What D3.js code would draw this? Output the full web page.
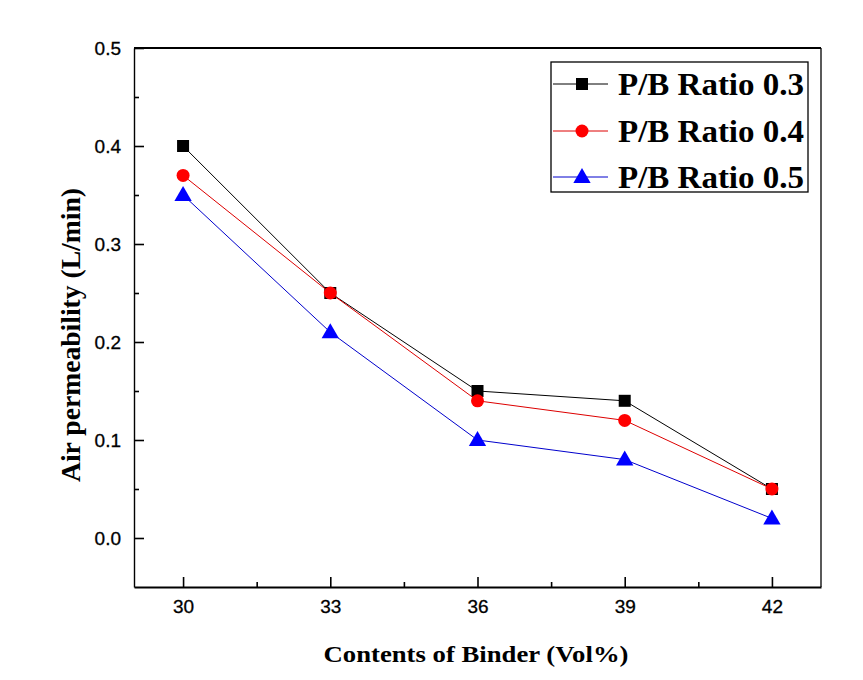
<!DOCTYPE html>
<html><head><meta charset="utf-8">
<script src="https://cdn.jsdelivr.net/npm/d3@7"></script>
<style>html,body{margin:0;padding:0;background:#fff;}</style>
</head><body>
<script>
const binder = [30, 33, 36, 39, 42];
const ratio03 = [0.40, 0.25, 0.15, 0.14, 0.05];
const ratio04 = [0.37, 0.25, 0.14, 0.12, 0.05];
const ratio05 = [0.35, 0.21, 0.10, 0.08, 0.02];
const seriesNames = ["P/B Ratio 0.3", "P/B Ratio 0.4", "P/B Ratio 0.5"];
const seriesColors = ["#000000", "#ff0000", "#0000ff"];
const lineColors = ["#000000", "#dd0000", "#0000cc"];
const seriesShapes = ["square", "circle", "triangle"];
const yTicks = [0.0, 0.1, 0.2, 0.3, 0.4, 0.5];
const xTicks = [30, 33, 36, 39, 42];

const W = 863, H = 680;
const L = 134, R = 821, T = 48, B = 587;
const svg = d3.select("body").append("svg").attr("width", W).attr("height", H);

const x = d3.scaleLinear().domain([29, 43]).range([L, R]);
const y = d3.scaleLinear().domain([-0.05, 0.5]).range([B, T]);

// frame
svg.append("line").attr("x1", L).attr("x2", R).attr("y1", T).attr("y2", T).attr("stroke", "#000").attr("stroke-width", 2);
svg.append("line").attr("x1", R).attr("x2", R).attr("y1", T).attr("y2", B).attr("stroke", "#000").attr("stroke-width", 1.3);

// axes
const xAxis = d3.axisBottom(x).tickValues(xTicks).tickSizeInner(-10).tickSizeOuter(0).tickFormat(d3.format("d")).tickPadding(13);
const gx = svg.append("g").attr("transform", `translate(0,${B})`).call(xAxis);
gx.select(".domain").attr("stroke-width", 2.2);
gx.selectAll(".tick line").attr("stroke-width", 1.6);
gx.selectAll("text").attr("font-family", "Liberation Sans, Arial, sans-serif").attr("font-size", 19).attr("fill", "#000")
  .attr("stroke", "#000").attr("stroke-width", 0.3);

const xMinor = d3.axisBottom(x).tickValues([31.5, 34.5, 37.5, 40.5]).tickSize(-5).tickFormat("");
const gxm = svg.append("g").attr("transform", `translate(0,${B})`).call(xMinor);
gxm.select(".domain").remove();
gxm.selectAll(".tick line").attr("stroke-width", 1.6);

const yAxis = d3.axisLeft(y).tickValues(yTicks).tickSizeInner(-10).tickSizeOuter(0).tickFormat(d3.format(".1f")).tickPadding(13);
const gy = svg.append("g").attr("transform", `translate(${L},0)`).call(yAxis);
gy.select(".domain").attr("stroke-width", 1.4);
gy.selectAll(".tick line").attr("stroke-width", 1.6);
gy.selectAll("text").attr("font-family", "Liberation Sans, Arial, sans-serif").attr("font-size", 19).attr("fill", "#000")
  .attr("stroke", "#000").attr("stroke-width", 0.3);

const yMinor = d3.axisLeft(y).tickValues([0.05, 0.15, 0.25, 0.35, 0.45]).tickSize(-5).tickFormat("");
const gym = svg.append("g").attr("transform", `translate(${L},0)`).call(yMinor);
gym.select(".domain").remove();
gym.selectAll(".tick line").attr("stroke-width", 1.6);

// axis titles
svg.append("text").attr("x", 476).attr("y", 662).attr("text-anchor", "middle")
  .attr("font-family", "Liberation Serif, Times New Roman, serif").attr("font-weight", "bold").attr("font-size", 23)
  .attr("textLength", 305).attr("lengthAdjust", "spacingAndGlyphs")
  .text("Contents of Binder (Vol%)");
svg.append("text").attr("transform", "translate(80,335) rotate(-90)").attr("text-anchor", "middle")
  .attr("font-family", "Liberation Serif, Times New Roman, serif").attr("font-weight", "bold").attr("font-size", 27)
  .attr("textLength", 294).attr("lengthAdjust", "spacingAndGlyphs")
  .text("Air permeability (L/min)");

// series
const seriesData = [ratio03, ratio04, ratio05];
const line = d3.line().x((d, i) => x(binder[i])).y(d => y(d));
function marker(g, shape, color, cx, cy) {
  if (shape === "square") {
    g.append("rect").attr("x", cx - 6).attr("y", cy - 6).attr("width", 12).attr("height", 12).attr("fill", color);
  } else if (shape === "circle") {
    g.append("circle").attr("cx", cx).attr("cy", cy).attr("r", 6.5).attr("fill", color);
  } else {
    g.append("path").attr("d", d3.symbol(d3.symbolTriangle, 130)()).attr("transform", `translate(${cx},${cy + 1})`).attr("fill", color);
  }
}
seriesData.forEach((vals, s) => {
  svg.append("path").datum(vals).attr("d", line).attr("fill", "none")
    .attr("stroke", lineColors[s]).attr("stroke-width", 1);
  const g = svg.append("g");
  vals.forEach((v, i) => marker(g, seriesShapes[s], seriesColors[s], x(binder[i]), y(v)));
});

// legend
const lg = svg.append("g");
lg.append("rect").attr("x", 551).attr("y", 62).attr("width", 257).attr("height", 130)
  .attr("fill", "#fff").attr("stroke", "#000").attr("stroke-width", 1.3);
const rowY = [84, 131, 177];
seriesNames.forEach((name, s) => {
  lg.append("line").attr("x1", 553).attr("x2", 608).attr("y1", rowY[s]).attr("y2", rowY[s])
    .attr("stroke", lineColors[s]).attr("stroke-width", 1);
  marker(lg, seriesShapes[s], seriesColors[s], 582, rowY[s]);
  lg.append("text").attr("x", 618).attr("y", rowY[s] + 11)
    .attr("font-family", "Liberation Serif, Times New Roman, serif").attr("font-weight", "bold").attr("font-size", 32)
    .attr("textLength", 186).attr("lengthAdjust", "spacingAndGlyphs")
    .text(name);
});
</script>
</body></html>
